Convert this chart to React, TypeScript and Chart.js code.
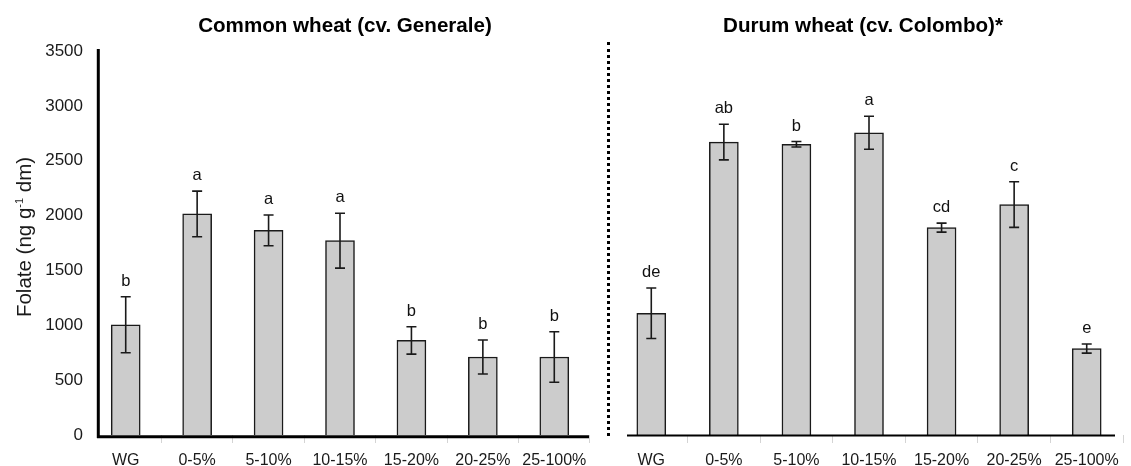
import React, { useEffect, useRef } from "react";
import { Chart, registerables } from "chart.js";

Chart.register(...registerables);

const categories = ["WG", "0-5%", "5-10%", "10-15%", "15-20%", "20-25%", "25-100%"];
const commonValues = [1005, 2015, 1865, 1771, 862, 711, 711];
const commonErrors = [255, 208, 140, 250, 125, 155, 230];
const commonLetters = ["b", "a", "a", "a", "b", "b", "b"];
const durumValues = [1110, 2670, 2650, 2755, 1890, 2100, 788];
const durumErrors = [230, 162, 25, 150, 41, 208, 42];
const durumLetters = ["de", "ab", "b", "a", "cd", "c", "e"];
const yMin = 0;
const yMax = 3500;
const yStep = 500;

const FONT = "'Liberation Sans', Arial, Helvetica, sans-serif";
const INK = "#1a1a1a";

type PanelProps = {
  values: number[];
  errors: number[];
  letters: string[];
  showY: boolean;
  width: number;
  padLeft: number;
  padRight: number;
  yWidth: number;
  axisLine: { x0: number; x1: number; y: number; w: number };
  yLine?: { x: number; y0: number; y1: number; w: number };
};

function Panel(props: PanelProps) {
  const ref = useRef<HTMLCanvasElement>(null);
  useEffect(() => {
    const canvas = ref.current;
    if (!canvas) return;
    const overlay = {
      id: "overlay",
      afterDatasetsDraw(chart: any) {
        const ctx = chart.ctx;
        const xs = chart.scales.x;
        const ys = chart.scales.y;
        ctx.save();
        ctx.strokeStyle = INK;
        ctx.lineWidth = 1.6;
        props.values.forEach((v, i) => {
          const x = xs.getPixelForValue(i);
          const top = ys.getPixelForValue(v + props.errors[i]);
          const bot = ys.getPixelForValue(v - props.errors[i]);
          ctx.beginPath();
          ctx.moveTo(x, top);
          ctx.lineTo(x, bot);
          ctx.moveTo(x - 5, top);
          ctx.lineTo(x + 5, top);
          ctx.moveTo(x - 5, bot);
          ctx.lineTo(x + 5, bot);
          ctx.stroke();
          ctx.fillStyle = "#111";
          ctx.font = `16.5px ${FONT}`;
          ctx.textAlign = "center";
          ctx.textBaseline = "alphabetic";
          ctx.fillText(props.letters[i], x, top - 11);
        });
        ctx.strokeStyle = "#000";
        const a = props.axisLine;
        ctx.lineWidth = a.w;
        ctx.beginPath();
        ctx.moveTo(a.x0, a.y);
        ctx.lineTo(a.x1, a.y);
        ctx.stroke();
        if (props.yLine) {
          const l = props.yLine;
          ctx.lineWidth = l.w;
          ctx.beginPath();
          ctx.moveTo(l.x, l.y0);
          ctx.lineTo(l.x, l.y1);
          ctx.stroke();
        }
        ctx.restore();
      },
    };
    const chart = new Chart(canvas, {
      type: "bar",
      data: {
        labels: categories,
        datasets: [
          {
            data: props.values,
            backgroundColor: "#cccccc",
            borderColor: INK,
            borderWidth: 1.5,
            barThickness: 29,
          },
        ],
      },
      options: {
        animation: false,
        responsive: false,
        maintainAspectRatio: false,
        layout: { padding: { left: props.padLeft, right: props.padRight, top: 51, bottom: 0 } },
        plugins: { legend: { display: false }, tooltip: { enabled: false }, title: { display: false } },
        scales: {
          x: {
            offset: true,
            grid: {
              display: true,
              offset: true,
              drawOnChartArea: false,
              drawTicks: true,
              tickLength: 8,
              color: (c: any) => (c.index === 0 ? "rgba(0,0,0,0)" : "#d4d4d4"),
              lineWidth: 1,
            },
            border: { display: false },
            ticks: { color: INK, font: { size: 16, family: FONT }, padding: 8, maxRotation: 0, autoSkip: false },
            afterFit: (s: any) => {
              s.height = 31;
            },
          },
          y: {
            display: props.showY,
            min: yMin,
            max: yMax,
            grid: { display: false, drawTicks: false },
            border: { display: false },
            ticks: {
              stepSize: yStep,
              color: INK,
              font: { size: 17, family: FONT },
              padding: 7,
              callback: (v: any) => String(v),
            },
            afterFit: (s: any) => {
              s.width = props.yWidth;
            },
          },
        },
      },
      plugins: [overlay],
    });
    return () => chart.destroy();
  }, []);
  return <canvas ref={ref} width={props.width} height={466} style={{ display: "block", width: props.width, height: 466 }} />;
}

export default function App() {
  return (
    <div
      style={{
        position: "absolute",
        left: 0,
        top: 0,
        width: 1131,
        height: 466,
        overflow: "hidden",
        background: "#fff",
        fontFamily: FONT,
      }}
    >
      <div style={{ position: "absolute", left: 0, top: 0 }}>
        <Panel
          values={commonValues}
          errors={commonErrors}
          letters={commonLetters}
          showY={true}
          width={605}
          padLeft={0}
          padRight={15}
          yWidth={90}
          axisLine={{ x0: 97, x1: 589, y: 436.7, w: 3 }}
          yLine={{ x: 98.3, y0: 49, y1: 438, w: 3 }}
        />
      </div>
      <div style={{ position: "absolute", left: 612, top: 0 }}>
        <Panel
          values={durumValues}
          errors={durumErrors}
          letters={durumLetters}
          showY={false}
          width={519}
          padLeft={3}
          padRight={8}
          yWidth={0}
          axisLine={{ x0: 15, x1: 503, y: 435.5, w: 2 }}
        />
      </div>
      <div
        style={{
          position: "absolute",
          left: 607,
          top: 42,
          height: 394,
          width: 0,
          borderLeft: "3px dotted #000",
        }}
      />
      <div
        style={{
          position: "absolute",
          left: 145,
          width: 400,
          top: 14.5,
          lineHeight: "20px",
          fontSize: 20.6,
          fontWeight: "bold",
          textAlign: "center",
          color: "#000",
          whiteSpace: "nowrap",
        }}
      >
        Common wheat (cv. Generale)
      </div>
      <div
        style={{
          position: "absolute",
          left: 663,
          width: 400,
          top: 14.5,
          lineHeight: "20px",
          fontSize: 20.6,
          fontWeight: "bold",
          textAlign: "center",
          color: "#000",
          whiteSpace: "nowrap",
        }}
      >
        Durum wheat (cv. Colombo)*
      </div>
      <div
        style={{
          position: "absolute",
          left: 24 - 150,
          top: 236.5 - 12,
          width: 300,
          height: 24,
          lineHeight: "24px",
          fontSize: 20.5,
          textAlign: "center",
          color: INK,
          transform: "rotate(-90deg)",
          transformOrigin: "50% 50%",
          whiteSpace: "nowrap",
        }}
      >
        Folate (ng g<sup style={{ fontSize: 11, verticalAlign: "top", lineHeight: "14px" }}>-1</sup> dm)
      </div>
    </div>
  );
}
